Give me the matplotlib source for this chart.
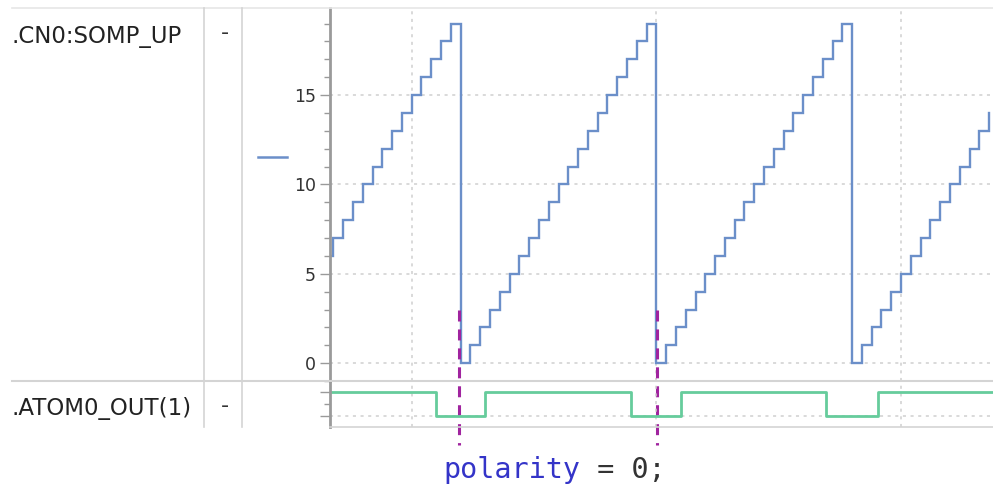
import matplotlib
matplotlib.use("Agg")
import matplotlib.pyplot as plt
from matplotlib.lines import Line2D
from matplotlib.transforms import blended_transform_factory
from matplotlib.ticker import MultipleLocator
import numpy as np

# signal names shown in the left column
signal_names = [".CN0:SOMP_UP", ".ATOM0_OUT(1)"]

# counter CN0 (one value per tick, starting at tick 16)
cn0_ticks = list(range(16, 85))
cn0_values = [6, 7, 8, 9, 10, 11, 12, 13, 14, 15, 16, 17, 18, 19,
              0, 1, 2, 3, 4, 5, 6, 7, 8, 9, 10, 11, 12, 13, 14, 15, 16, 17, 18, 19,
              0, 1, 2, 3, 4, 5, 6, 7, 8, 9, 10, 11, 12, 13, 14, 15, 16, 17, 18, 19,
              0, 1, 2, 3, 4, 5, 6, 7, 8, 9, 10, 11, 12, 13, 14]

# ATOM0 output edges
out_times = [16.65, 27.5, 32.5, 47.4, 52.5, 67.3, 72.6, 84.4]
out_values = [1, 0, 1, 0, 1, 0, 1, 1]

# marker positions (polarity change)
marker_times = [29.8, 50.1]

x_min, x_max = 16.65, 84.4
W, H = 993, 488

blue = "#6b8fc9"
green = "#66cc9c"
purple = "#a0249f"
grid_c = "#cfcfcf"
sep_c = "#d4d4d4"

fig = plt.figure(figsize=(W / 100, H / 100), dpi=100)


def fx(px):
    return px / W


def fy(py):
    return 1 - py / H


ax = fig.add_axes([fx(330), fy(381), fx(993) - fx(330), fy(8) - fy(381)])
ax2 = fig.add_axes([fx(330), fy(427), fx(993) - fx(330), fy(381) - fy(427)], sharex=ax)

ax.step(cn0_ticks, cn0_values, where="post", color=blue, lw=1.7, solid_joinstyle="miter")
ax.set_xlim(x_min, x_max)
ax.set_ylim(-1.0, 19.87)
ax.yaxis.set_major_locator(MultipleLocator(5))
ax.yaxis.set_minor_locator(MultipleLocator(1))
ax.xaxis.set_major_locator(MultipleLocator(25))
ax.grid(True, which="major", color=grid_c, ls=(0, (2, 3)), lw=1.1)

ax2.step(out_times, out_values, where="post", color=green, lw=2.0)
ax2.set_ylim(-0.48, 1.47)
ax2.yaxis.set_major_locator(MultipleLocator(1))
ax2.yaxis.set_minor_locator(MultipleLocator(0.5))
ax2.set_yticklabels([])
ax2.grid(True, which="major", axis="x", color=grid_c, ls=(0, (2, 3)), lw=1.1)
ax2.axhline(0, color=grid_c, ls=(0, (2, 3)), lw=1.1, zorder=0)

for a in (ax, ax2):
    for s in ("top", "right", "bottom"):
        a.spines[s].set_visible(False)
    a.spines["left"].set_color("#9a9a9a")
    a.spines["left"].set_linewidth(2.0)
    a.tick_params(axis="x", length=0, labelbottom=False)
    a.tick_params(axis="y", which="major", length=7, width=1, color="#9a9a9a",
                  labelsize=12.5, labelcolor="#333333", pad=3)
    a.tick_params(axis="y", which="minor", length=4, width=1, color="#9a9a9a")
    a.set_facecolor("none")

ax2.spines["bottom"].set_visible(True)
ax2.spines["bottom"].set_color(sep_c)
ax2.spines["bottom"].set_linewidth(1.2)

# table frame on the left
fig.add_artist(Line2D([fx(12), 1], [fy(8), fy(8)], color="#e6e6e6", lw=1.2))
fig.add_artist(Line2D([fx(12), 1], [fy(381), fy(381)], color=sep_c, lw=1.5))
for px in (204, 242):
    fig.add_artist(Line2D([fx(px), fx(px)], [fy(8), fy(427)], color=sep_c, lw=1.2))

fig.text(fx(11), fy(37), signal_names[0], fontsize=16.5, color="#222222", va="center", ha="left")
fig.text(fx(11), fy(409), signal_names[1], fontsize=16.5, color="#222222", va="center", ha="left")
fig.text(fx(225), fy(33), "-", fontsize=16, color="#333333", va="center", ha="center")
fig.text(fx(225), fy(406), "-", fontsize=16, color="#333333", va="center", ha="center")

# legend swatch
fig.add_artist(Line2D([fx(258), fx(287)], [fy(157), fy(157)], color=blue, lw=1.8))

# polarity markers crossing both panels
tr = blended_transform_factory(ax.transData, fig.transFigure)
for t in marker_times:
    ax.plot([t, t], [fy(310), fy(445)], transform=tr, color=purple, lw=2.2,
            ls=(0, (3.6, 2.6)), clip_on=False, zorder=5)

t1 = fig.text(fx(443), fy(470), "polarity", family="DejaVu Sans Mono", fontsize=20.5,
              color="#3434c8", va="center", ha="left")
fig.canvas.draw()
ax.annotate(" = 0;", xy=(1, 0), xycoords=t1, va="bottom", ha="left",
            family="DejaVu Sans Mono", fontsize=20.5, color="#333333")

fig.savefig("out.png", dpi=100)
